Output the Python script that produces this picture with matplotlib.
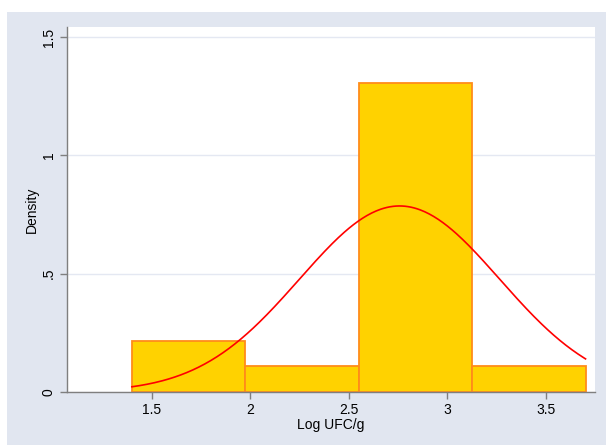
import numpy as np
import matplotlib.pyplot as plt

# histogram (density) of Log UFC/g
bin_edges = [1.40, 1.975, 2.55, 3.125, 3.70]
density = [0.2174, 0.1087, 1.3043, 0.1087]

# normal overlay parameters
mu = 2.757
sd = 0.5076

xticks = [1.5, 2, 2.5, 3, 3.5]
xticklabels = ["1.5", "2", "2.5", "3", "3.5"]
yticks = [0, 0.5, 1, 1.5]
yticklabels = ["0", ".5", "1", "1.5"]

plt.rcParams['font.family'] = ['Liberation Sans', 'DejaVu Sans']

fig = plt.figure(figsize=(6.06, 4.45), dpi=100)
fig.patch.set_facecolor('white')
# bluish outer background (starts a bit in from top/left)
bg = fig.add_axes([7/606, 0, 1 - 7/606, 1 - 12/445])
bg.set_facecolor('#E1E6F0')
bg.set_xticks([])
bg.set_yticks([])
for s in bg.spines.values():
    s.set_visible(False)
bg.set_zorder(0)

ax = fig.add_axes([67/606, (445-392)/445, (595-67)/606, (392-27)/445])
ax.set_zorder(1)
ax.set_facecolor('white')

widths = np.diff(bin_edges)
ax.bar(bin_edges[:-1], density, width=widths, align='edge',
       color='#FFD200', edgecolor='#FF8C1A', linewidth=1.3, zorder=2)

xs = np.linspace(bin_edges[0], bin_edges[-1], 300)
pdf = np.exp(-0.5 * ((xs - mu) / sd) ** 2) / (sd * np.sqrt(2 * np.pi))
ax.plot(xs, pdf, color='#FF0000', linewidth=1.2, zorder=3)

ax.set_xlim(1.071, 3.748)
ax.set_ylim(0, 1.542)
ax.set_xticks(xticks)
ax.set_xticklabels(xticklabels)
ax.set_yticks(yticks)
ax.set_yticklabels(yticklabels, rotation=90, va='center')
ax.yaxis.grid(True, color='#E4E8F2', linewidth=1, zorder=0)
ax.set_axisbelow(True)

for s in ['top', 'right']:
    ax.spines[s].set_visible(False)
for s in ['left', 'bottom']:
    ax.spines[s].set_color('#7F7F7F')
    ax.spines[s].set_linewidth(1.0)
ax.tick_params(axis='both', direction='out', length=5, width=1, color='#7F7F7F',
               labelsize=10, labelcolor='black', pad=3)

ax.set_xlabel("Log UFC/g", fontsize=10, labelpad=1)
ax.set_ylabel("Density", fontsize=10, labelpad=2)

fig.savefig("out.png", dpi=100, facecolor=fig.get_facecolor())
